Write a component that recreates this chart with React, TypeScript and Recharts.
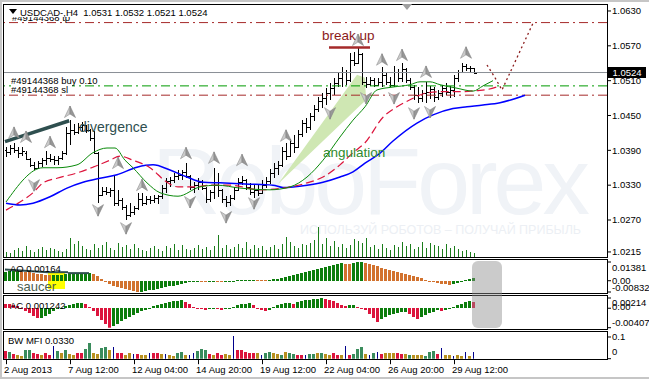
import React from 'react';
import { ComposedChart, Bar, Line, Area, Scatter, XAxis, YAxis, ReferenceLine } from 'recharts';

const FONT = '"Liberation Sans", Arial, sans-serif';
const FS = 9.5;

// ---------- price bars (H4 USDCAD) ----------
const OPEN = [
  1.0391,1.0387,1.0394,1.0391,1.0385,1.0386,1.0375,1.0365,1.0360,1.0368,
  1.0373,1.0377,1.0375,1.0373,1.0377,1.0385,1.0420,1.0425,1.0422,1.0430,
  1.0433,1.0425,1.0411,1.0385,1.0313,1.0320,1.0318,1.0322,1.0299,1.0304,
  1.0292,1.0278,1.0284,1.0290,1.0306,1.0299,1.0306,1.0304,1.0308,1.0311,
  1.0325,1.0337,1.0339,1.0346,1.0348,1.0353,1.0346,1.0327,1.0330,1.0336,
  1.0325,1.0306,1.0318,1.0330,1.0322,1.0306,1.0301,1.0308,1.0322,1.0336,
  1.0339,1.0327,1.0318,1.0322,1.0316,1.0330,1.0337,1.0351,1.0360,1.0365,
  1.0389,1.0380,1.0403,1.0396,1.0418,1.0437,1.0430,1.0449,1.0461,1.0475,
  1.0480,1.0489,1.0497,1.0506,1.0515,1.0525,1.0511,1.0546,1.0540,1.0556,
  1.0508,1.0505,1.0511,1.0503,1.0508,1.0520,1.0508,1.0503,1.0525,1.0515,
  1.0530,1.0511,1.0499,1.0485,1.0480,1.0489,1.0491,1.0495,1.0482,1.0489,
  1.0497,1.0491,1.0494,1.0515,1.0525,1.0536,1.0532,1.0531,
];
const HIGH = [
  1.0396,1.0399,1.0403,1.0396,1.0396,1.0389,1.0377,1.0370,1.0372,1.0377,
  1.0389,1.0384,1.0380,1.0381,1.0389,1.0430,1.0442,1.0435,1.0437,1.0439,
  1.0434,1.0427,1.0423,1.0387,1.0327,1.0327,1.0325,1.0348,1.0322,1.0308,
  1.0296,1.0299,1.0294,1.0316,1.0316,1.0311,1.0311,1.0313,1.0313,1.0330,
  1.0342,1.0344,1.0351,1.0356,1.0356,1.0368,1.0348,1.0335,1.0342,1.0339,
  1.0327,1.0322,1.0360,1.0351,1.0324,1.0311,1.0313,1.0327,1.0342,1.0346,
  1.0340,1.0334,1.0330,1.0330,1.0339,1.0344,1.0358,1.0368,1.0372,1.0396,
  1.0403,1.0410,1.0417,1.0425,1.0442,1.0446,1.0454,1.0468,1.0482,1.0489,
  1.0497,1.0506,1.0515,1.0523,1.0534,1.0528,1.0558,1.0560,1.0566,1.0558,
  1.0516,1.0517,1.0515,1.0514,1.0534,1.0524,1.0517,1.0535,1.0530,1.0540,
  1.0532,1.0515,1.0503,1.0499,1.0494,1.0508,1.0500,1.0499,1.0494,1.0503,
  1.0506,1.0500,1.0520,1.0528,1.0540,1.0538,1.0535,1.0532,
];
const LOW = [
  1.0379,1.0382,1.0386,1.0377,1.0380,1.0373,1.0361,1.0356,1.0358,1.0361,
  1.0365,1.0370,1.0365,1.0365,1.0373,1.0382,1.0399,1.0416,1.0418,1.0422,
  1.0420,1.0406,1.0383,1.0300,1.0311,1.0313,1.0310,1.0294,1.0294,1.0287,
  1.0270,1.0276,1.0279,1.0287,1.0294,1.0296,1.0298,1.0299,1.0298,1.0306,
  1.0316,1.0327,1.0334,1.0339,1.0339,1.0342,1.0322,1.0317,1.0322,1.0322,
  1.0299,1.0301,1.0306,1.0310,1.0299,1.0292,1.0294,1.0304,1.0320,1.0330,
  1.0322,1.0313,1.0308,1.0311,1.0314,1.0325,1.0332,1.0342,1.0348,1.0361,
  1.0373,1.0378,1.0386,1.0394,1.0413,1.0420,1.0425,1.0440,1.0456,1.0463,
  1.0468,1.0477,1.0485,1.0499,1.0499,1.0503,1.0508,1.0535,1.0538,1.0503,
  1.0498,1.0500,1.0499,1.0500,1.0499,1.0503,1.0499,1.0499,1.0508,1.0508,
  1.0506,1.0494,1.0477,1.0472,1.0474,1.0472,1.0478,1.0474,1.0476,1.0482,
  1.0485,1.0480,1.0482,1.0508,1.0523,1.0526,1.0525,1.0521,
];
const CLOSE = [
  1.0387,1.0394,1.0391,1.0385,1.0389,1.0375,1.0365,1.0360,1.0368,1.0373,
  1.0377,1.0375,1.0373,1.0377,1.0385,1.0420,1.0425,1.0422,1.0430,1.0433,
  1.0425,1.0411,1.0385,1.0313,1.0320,1.0318,1.0322,1.0299,1.0304,1.0292,
  1.0278,1.0284,1.0290,1.0306,1.0299,1.0306,1.0304,1.0308,1.0311,1.0325,
  1.0337,1.0339,1.0346,1.0348,1.0353,1.0346,1.0327,1.0330,1.0336,1.0325,
  1.0306,1.0318,1.0330,1.0322,1.0306,1.0301,1.0308,1.0322,1.0336,1.0339,
  1.0327,1.0318,1.0322,1.0316,1.0330,1.0337,1.0351,1.0360,1.0365,1.0389,
  1.0380,1.0403,1.0396,1.0418,1.0437,1.0430,1.0449,1.0461,1.0475,1.0480,
  1.0489,1.0497,1.0506,1.0515,1.0525,1.0511,1.0546,1.0540,1.0556,1.0508,
  1.0505,1.0511,1.0503,1.0508,1.0520,1.0508,1.0503,1.0525,1.0515,1.0530,
  1.0511,1.0499,1.0485,1.0480,1.0489,1.0491,1.0495,1.0482,1.0489,1.0497,
  1.0491,1.0494,1.0515,1.0525,1.0536,1.0532,1.0531,1.0524,
];
const VOLUME = [
  800,640,1120,1440,960,1760,1120,800,1280,1600,1120,
  1440,1280,960,800,1280,3040,2080,2560,1760,1280,
  1120,2080,1440,1920,2400,1440,1120,2240,1600,1920,
  1280,2080,1440,1120,960,1440,1760,1280,960,1760,
  1440,2080,1120,1920,1280,1120,1440,1920,1280,1600,
  1120,1760,3520,1440,1920,1280,1600,2080,1440,2400,
  1280,1920,1440,1760,1120,1600,1920,1280,2080,3200,
  2400,1760,1440,2080,1920,2240,2720,4800,2080,3040,
  1760,2560,1600,2080,1440,1920,2880,2560,2240,3040,
  1600,1920,1280,2080,1440,1120,1920,1600,2400,1760,
  2080,1280,1600,2400,1440,2240,1920,1760,1280,2080,
  1440,1760,1280,960,1120,800,640,
];

// ---------- Alligator (index, price) ----------
const JAW: [number, number][] = [
  [0,1.0299],[3.5,1.0296],[6.75,1.0299],[11,1.0310],[15.25,1.0325],[19.25,1.0335],[23.5,1.0342],
  [27.75,1.0348],[32.75,1.0361],[36.75,1.0365],[41,1.0356],[45.25,1.0344],[49.25,1.0335],[53.5,1.0334],
  [59.75,1.0332],[66.75,1.0330],[69.25,1.0326],[75.25,1.0330],[79.25,1.0335],[83.5,1.0344],[86.75,1.0353],
  [89.75,1.0368],[93.5,1.0385],[96.75,1.0406],[102.75,1.0437],[106.75,1.0451],[111.75,1.0462],
  [115.25,1.0465],[119.25,1.0468],[123.5,1.0472],[129.75,1.0485],
];
const TEETH: [number, number][] = [
  [0,1.0287],[3.5,1.0301],[6.75,1.0317],[9.25,1.0334],[12.75,1.0342],[17.75,1.0351],[21.75,1.0361],
  [26,1.0373],[28.5,1.0380],[31.75,1.0373],[36,1.0360],[40.25,1.0335],[43,1.0327],[46.75,1.0327],
  [51,1.0330],[56,1.0330],[63.5,1.0322],[69.25,1.0325],[75.25,1.0334],[79.25,1.0344],[83.5,1.0365],
  [86.75,1.0386],[89.75,1.0403],[94.25,1.0447],[97.75,1.0465],[101,1.0477],[105.25,1.0489],
  [109.25,1.0491],[113.5,1.0491],[117.75,1.0493],[120.5,1.0495],[123.5,1.0501],
];
const LIPS: [number, number][] = [
  [0,1.0301],[9.25,1.0360],[12.75,1.0360],[17.75,1.0365],[21.75,1.0386],[25.25,1.0394],[27.25,1.0394],
  [29.75,1.0373],[31.75,1.0360],[35.25,1.0334],[38.5,1.0317],[43,1.0311],[48.5,1.0327],[52.75,1.0330],
  [58.5,1.0325],[66,1.0322],[71,1.0327],[75.25,1.0344],[79.25,1.0373],[83.5,1.0413],[86.75,1.0442],
  [89.75,1.0465],[92.75,1.0494],[96.75,1.0499],[101,1.0503],[103.5,1.0508],[106,1.0508],[108.5,1.0503],
  [112.75,1.0497],[116.75,1.0492],[119.25,1.0501],[121.75,1.0510],
];
const FORECAST: [number, number][] = [[120.25,1.0537],[122.25,1.0515],[124,1.0494],[131.75,1.0609]];
const WEDGE: [number, number, number][] = [[68,1.0332,1.0332],[87.75,1.0462,1.0520],[89.75,1.0475,1.0515],[90,1.0477,1.0477]];
const DIVERGENCE: [number, number][] = [[-0.25,1.0405],[15.8,1.0441]];
const BREAK_UP: [number, number][] = [[80.75,1.0567],[91,1.0567]];

const FRACTAL_UP: [number, number][] = [
  [2,1.0420],[5,1.0413],[11,1.0404],[16,1.0456],[28,1.0368],[34,1.0330],[45,1.0385],[52,1.0377],
  [59,1.0373],[70,1.0415],[88,1.0580],[94,1.0546],[99,1.0554],[105,1.0525],[115,1.0558],
];
const FRACTAL_DOWN: [number, number][] = [
  [7,1.0330],[23,1.0287],[30,1.0256],[46,1.0301],[55,1.0275],[62,1.0299],[81,1.0454],[90,1.0480],
  [97,1.0480],[102,1.0454],[106,1.0456],
];

const LEVEL_TP = 1.0610;
const LEVEL_BID = 1.0524;
const LEVEL_BUY = 1.0501;
const LEVEL_SL = 1.0485;

const PRICE_TICKS = [1.0215, 1.0270, 1.0330, 1.0390, 1.0450, 1.0510, 1.0570, 1.0630];
const TIME_TICKS = [0, 16, 32, 48, 64, 80, 96, 112];
const TIME_LABELS = ['2 Aug 2013', '7 Aug 12:00', '12 Aug 04:00', '14 Aug 20:00', '19 Aug 12:00', '22 Aug 04:00', '26 Aug 20:00', '29 Aug 12:00'];

// ---------- Awesome Oscillator ----------
const AO = [
  0.0067,0.0069,0.0072,0.0073,0.0070,0.0066,0.0061,0.0056,0.0051,0.0046,
  0.0042,0.0039,0.0040,0.0043,0.0045,0.0047,0.0049,0.0051,0.0053,0.0054,
  0.0056,0.0057,0.0046,0.0034,0.0015,-0.0011,-0.0024,-0.0036,-0.0046,-0.0056,
  -0.0063,-0.0071,-0.0078,-0.00832,-0.0082,-0.0078,-0.0072,-0.0066,-0.0060,-0.0054,
  -0.0048,-0.0042,-0.0036,-0.0030,-0.0024,-0.0018,-0.0013,-0.0010,-0.0007,-0.0008,
  -0.0009,-0.0007,-0.0006,-0.0007,-0.0008,-0.0006,-0.0004,-0.0002,0.0002,0.0004,
  0.0007,0.0008,0.0009,0.0007,0.0006,0.0005,0.0007,0.0010,0.0015,0.0021,
  0.0027,0.0034,0.0040,0.0047,0.0054,0.0062,0.0070,0.0078,0.0087,0.0095,
  0.0104,0.0112,0.0118,0.0123,0.0128,0.0127,0.0125,0.0131,0.0136,0.01381,
  0.0133,0.0124,0.0115,0.0105,0.0095,0.0087,0.0078,0.0072,0.0066,0.0058,
  0.0051,0.0043,0.0036,0.0028,0.0021,0.0009,-0.0004,-0.0011,-0.0016,-0.0021,
  -0.0026,-0.0031,-0.0026,-0.0019,-0.0009,0.0004,0.0011,0.00164,
];
const AO_TICKS = [0.01381, 0, -0.00832];
const AO_TICK_TEXT = ['0.01381', '0.00', '-0.00832'];
const AO_TREND: [number, number][][] = [
  [[-0.25,0.0082],[10.5,0.0063]],
  [[10.5,0.0063],[15.5,0.0063]],
  [[15.5,0.0056],[20.75,0.0056]],
];

// ---------- Accelerator Oscillator ----------
const AC = [
  0.00095,0.00084,0.00074,0.00053,0.00011,-0.00053,-0.00105,-0.00168,-0.00210,-0.00200,
  -0.00168,-0.00116,-0.00063,-0.00021,0.00011,0.00042,0.00074,0.00088,0.00101,0.00109,
  0.00084,0.00021,-0.00063,-0.00168,-0.00252,-0.00336,-0.00407,-0.00378,-0.00336,-0.00273,
  -0.00231,-0.00189,-0.00147,-0.00105,-0.00063,-0.00032,0.00011,0.00042,0.00063,0.00084,
  0.00105,0.00126,0.00143,0.00158,0.00168,0.00137,0.00084,0.00032,-0.00011,-0.00021,
  -0.00032,-0.00017,-0.00011,-0.00021,-0.00032,-0.00017,0.00011,0.00032,0.00063,0.00084,
  0.00095,0.00101,0.00074,0.00011,-0.00042,-0.00063,-0.00032,0.00021,0.00063,0.00084,
  0.00105,0.00116,0.00095,0.00126,0.00147,0.00162,0.00174,0.00185,0.00195,0.00214,
  0.00189,0.00168,0.00147,0.00116,0.00063,0.00042,0.00059,0.00067,0.00032,0.00011,
  -0.00042,-0.00126,-0.00200,-0.00284,-0.00231,-0.00189,-0.00147,-0.00116,-0.00095,-0.00084,
  -0.00080,-0.00126,-0.00179,-0.00221,-0.00189,-0.00147,-0.00105,-0.00074,-0.00042,-0.00053,
  -0.00032,0.00004,0.00032,0.00063,0.00095,0.00126,0.00143,0.00124,
];
const AC_TICKS = [0.00214, 0, -0.00407];
const AC_TICK_TEXT = ['0.00214', '0.00', '-0.00407'];

// ---------- BW Market Facilitation Index ----------
const MFI = [
  0.0354,0.0322,0.0202,0.0170,0.0138,0.0386,0.0386,0.0248,0.0230,0.0170,
  0.0248,0.0156,0.0584,0.0354,0.0276,0.0414,0.0202,0.0156,0.0248,0.0248,
  0.0460,0.0708,0.0248,0.0230,0.0506,0.0538,0.0400,0.0552,0.0248,0.0276,
  0.0184,0.0248,0.0202,0.0202,0.0170,0.0156,0.0248,0.0276,0.0276,0.0230,
  0.0230,0.0170,0.0138,0.0276,0.0308,0.0170,0.0170,0.0248,0.0354,0.0460,
  0.0400,0.0216,0.0170,0.0248,0.0184,0.0230,0.0184,0.1049,0.0386,0.0386,
  0.0322,0.0276,0.0248,0.0248,0.0184,0.0248,0.0294,0.0276,0.0230,0.0184,
  0.0308,0.0276,0.0202,0.0170,0.0170,0.0156,0.0230,0.0230,0.0262,0.0262,
  0.0230,0.0156,0.0248,0.0184,0.0184,0.0584,0.0184,0.0216,0.0460,0.0524,
  0.0216,0.0156,0.0276,0.0308,0.0216,0.0276,0.0276,0.0248,0.0248,0.0230,
  0.0216,0.0184,0.0184,0.0170,0.0156,0.0138,0.0308,0.0340,0.0216,0.0506,
  0.0184,0.0156,0.0138,0.0170,0.0138,0.0308,0.0115,0.0330,
];
// g = MFI up / volume up, r = squat, y = fade, b = fake
const MFI_STATE = (
  'rgryyggrry' + 'rrbgygyyrr' + 'ggyyggybrr' + 'yybryybrry' + 'byyggybbgg' +
  'gryrryybrr' + 'rrrybggyyg' + 'yggrrbggyg' + 'yyrrybrggg' + 'ybgbryyyrr' +
  'ygyyygggrb' + 'yybyybyb'
).split('');
const MFI_TICKS = [0.1, 0];
const MFI_TICK_TEXT = ['0.1', '0'];

// ---------- layout / style ----------
const X_DOMAIN: [number, number] = [-0.5, 150.25];
const PRICE_DOMAIN: [number, number] = [1.02063, 1.06403];
const VOL_DOMAIN: [number, number] = [0, 40320];
const AO_DOMAIN: [number, number] = [-0.00832, 0.01381];
const AC_DOMAIN: [number, number] = [-0.00407, 0.00214];
const MFI_DOMAIN: [number, number] = [0, 0.1184];

const C = {
  aoUp: '#0c7d0c', aoDown: '#d2722e',
  acUp: '#0c7d0c', acDown: '#dc143c',
  mfi: { g: '#3a8c5c', r: '#dc143c', y: '#b8901e', b: '#00008b' } as Record<string, string>,
  vol: '#1b7d1b',
  jaw: '#0000ff', teeth: '#dc143c', lips: '#0a8a0a',
  stop: '#a52a2a', buy: '#009a00', bid: '#8a8f96',
};

const bars = CLOSE.map((c, i) => ({ i, o: OPEN[i], h: HIGH[i], l: LOW[i], c, range: [LOW[i], HIGH[i]], vol: VOLUME[i] }));
const aoData = AO.map((v, i) => ({ i, v, color: i === 0 || v > AO[i - 1] ? C.aoUp : C.aoDown }));
const acData = AC.map((v, i) => ({ i, v, color: i > 0 && v > AC[i - 1] ? C.acUp : C.acDown }));
const mfiData = MFI.map((v, i) => ({ i, v, state: MFI_STATE[i], color: C.mfi[MFI_STATE[i]] }));
const toPts = (arr: [number, number][]) => arr.map(([i, p]) => ({ i, p }));
const wedgeData = WEDGE.map(([i, lo, hi]) => ({ i, r: [lo, hi] }));

function OhlcShape(props: any) {
  const { x, y, width, height, payload } = props;
  if (x == null || !payload) return null;
  const cx = Math.round(x + width / 2) + 0.5;
  const top = Math.min(y, y + height);
  const hh = Math.abs(height);
  const span = payload.h - payload.l;
  const yo = Math.round(top + (span ? (payload.h - payload.o) / span : 0.5) * hh) + 0.5;
  const yc = Math.round(top + (span ? (payload.h - payload.c) / span : 0.5) * hh) + 0.5;
  return (
    <g stroke="#000" strokeWidth={1} shapeRendering="crispEdges">
      <line x1={cx} x2={cx} y1={top} y2={top + Math.max(hh, 1)} />
      <line x1={cx - 2} x2={cx} y1={yo} y2={yo} />
      <line x1={cx} x2={cx + 2} y1={yc} y2={yc} />
    </g>
  );
}

function VolShape(props: any) {
  const { x, y, width, height } = props;
  if (x == null) return null;
  const cx = Math.round(x + width / 2) + 0.5;
  return <line x1={cx} x2={cx} y1={y} y2={y + height} stroke={C.vol} strokeWidth={1} shapeRendering="crispEdges" />;
}

function HistShape(props: any) {
  const { x, y, width, height, payload } = props;
  if (x == null || !payload) return null;
  const cx = x + width / 2;
  const top = Math.min(y, y + height);
  const hh = Math.max(Math.abs(height), 0.8);
  const thin = payload.state === 'b';
  const w = thin ? 1 : 3;
  return <rect x={Math.round(cx - w / 2)} y={top} width={w} height={hh} fill={payload.color} shapeRendering="crispEdges" />;
}

function Fractal({ cx, cy, up }: { cx: number; cy: number; up: boolean }) {
  if (cx == null || cy == null) return null;
  const s = up ? 1 : -1;
  const P = (a: number, b: number) => `${cx + a},${cy + b * s}`;
  return (
    <g>
      <polygon points={[P(0, -6), P(0, 2), P(-5.5, 5.5)].join(' ')} fill="#cacaca" stroke="#929292" strokeWidth={0.6} />
      <polygon points={[P(0, -6), P(5.5, 5.5), P(0, 2)].join(' ')} fill="#979797" stroke="#828282" strokeWidth={0.6} />
    </g>
  );
}

function PriceTick(props: any) {
  const { x, y, payload } = props;
  return (
    <text x={x} y={y} dy="0.35em" fontSize={FS} fontFamily={FONT} fill="#000">
      {Number(payload.value).toFixed(4)}
    </text>
  );
}

function makeRightTick(values: number[], texts: string[], offsets: number[]) {
  return (props: any) => {
    const { x, y, payload } = props;
    const k = values.findIndex((v) => Math.abs(v - payload.value) < 1e-9);
    return (
      <text x={x} y={y + (offsets[k] ?? 0)} dy="0.35em" fontSize={FS} fontFamily={FONT} fill="#000">
        {k >= 0 ? texts[k] : String(payload.value)}
      </text>
    );
  };
}
const AoTick = makeRightTick(AO_TICKS, AO_TICK_TEXT, [6, 0, -4.5]);
const AcTick = makeRightTick(AC_TICKS, AC_TICK_TEXT, [5, -2, -4.7]);
const MfiTick = makeRightTick(MFI_TICKS, MFI_TICK_TEXT, [0, -6.7]);

function TimeTick(props: any) {
  const { x, y, payload } = props;
  const k = TIME_TICKS.indexOf(payload.value);
  const lx = Math.round(x) + 0.5;
  return (
    <g>
      <line x1={lx} x2={lx} y1={y + 1.3} y2={y + 5.5} stroke="#000" strokeWidth={1} />
      <text x={x - 2} y={y + 13.8} fontSize={FS} fontFamily={FONT} fill="#000">{TIME_LABELS[k]}</text>
    </g>
  );
}

const abs = (l: number, t: number, extra: React.CSSProperties = {}): React.CSSProperties => ({
  position: 'absolute', left: l, top: t, whiteSpace: 'nowrap', fontFamily: FONT, ...extra,
});
const pane = (t: number, h: number): React.CSSProperties => ({
  position: 'absolute', left: 3, top: t, width: 605, height: h, border: '1px solid #000', boxSizing: 'border-box', pointerEvents: 'none',
});
const dashDot = '9 4 2 4';

export default function App() {
  return (
    <div style={{ position: 'fixed', left: 0, top: 0, width: 649, height: 379, background: '#fff', overflow: 'hidden', fontFamily: FONT }}>
      {/* window frame */}
      <div style={{ position: 'absolute', left: 0, top: 0, width: 649, height: 379, borderTop: '2px solid #c6c6c6', borderLeft: '2px solid #c6c6c6', borderBottom: '2px solid #c6c6c6', boxSizing: 'border-box' }} />

      {/* watermark */}
      <div style={abs(152, 134, { fontSize: 95, lineHeight: '95px', color: '#f0f3f7', letterSpacing: -4 })}>RoboForex</div>
      <div style={abs(300, 224, { fontSize: 12.5, lineHeight: '13px', color: '#eceff4' })}>ИСПОЛЬЗУЙ РОБОТОВ – ПОЛУЧАЙ ПРИБЫЛЬ</div>

      {/* saucer highlight */}
      <div style={{ position: 'absolute', left: 48, top: 273, width: 17, height: 16, background: '#ffff00' }} />

      {/* main price pane */}
      <div style={{ position: 'absolute', left: 0, top: 0 }}>
        <ComposedChart width={649} height={262} data={bars} margin={{ top: 5, right: 0, bottom: 5, left: 4 }}>
          <XAxis xAxisId="x" type="number" dataKey="i" domain={X_DOMAIN} allowDataOverflow hide />
          <XAxis xAxisId="vx" type="number" dataKey="i" domain={X_DOMAIN} allowDataOverflow hide />
          <YAxis yAxisId="y" orientation="right" width={42} domain={PRICE_DOMAIN} allowDataOverflow ticks={PRICE_TICKS} interval={0}
            tickSize={4} tickMargin={1} axisLine={false} tickLine={{ stroke: '#000' }} tick={PriceTick} />
          <YAxis yAxisId="vy" domain={VOL_DOMAIN} hide />

          <Area xAxisId="x" yAxisId="y" data={wedgeData} dataKey="r" type="linear" stroke="none" fill="#cfe7b3" fillOpacity={1} isAnimationActive={false} />

          <ReferenceLine xAxisId="x" yAxisId="y" y={LEVEL_TP} stroke={C.stop} strokeDasharray={dashDot} />
          <ReferenceLine xAxisId="x" yAxisId="y" y={LEVEL_BID} stroke={C.bid} />
          <ReferenceLine xAxisId="x" yAxisId="y" y={LEVEL_BUY} stroke={C.buy} strokeDasharray={dashDot} />
          <ReferenceLine xAxisId="x" yAxisId="y" y={LEVEL_SL} stroke={C.stop} strokeDasharray={dashDot} />

          <Bar xAxisId="vx" yAxisId="vy" dataKey="vol" barSize={1} shape={VolShape} isAnimationActive={false} />

          <Line xAxisId="x" yAxisId="y" data={toPts(JAW)} dataKey="p" type="monotone" stroke={C.jaw} strokeWidth={1.5} dot={false} isAnimationActive={false} />
          <Line xAxisId="x" yAxisId="y" data={toPts(TEETH)} dataKey="p" type="monotone" stroke={C.teeth} strokeWidth={1.2} strokeDasharray="8 4" dot={false} isAnimationActive={false} />
          <Line xAxisId="x" yAxisId="y" data={toPts(LIPS)} dataKey="p" type="monotone" stroke={C.lips} strokeWidth={1} dot={false} isAnimationActive={false} />
          <Line xAxisId="x" yAxisId="y" data={toPts(FORECAST)} dataKey="p" type="linear" stroke="#8b1c1c" strokeWidth={1.3} strokeDasharray="2 3" dot={false} isAnimationActive={false} />

          <Bar xAxisId="x" yAxisId="y" dataKey="range" barSize={3} shape={OhlcShape} isAnimationActive={false} />

          <Scatter xAxisId="x" yAxisId="y" data={toPts(FRACTAL_UP)} dataKey="p" isAnimationActive={false}
            shape={(p: any) => <Fractal cx={p.cx} cy={p.cy} up />} />
          <Scatter xAxisId="x" yAxisId="y" data={toPts(FRACTAL_DOWN)} dataKey="p" isAnimationActive={false}
            shape={(p: any) => <Fractal cx={p.cx} cy={p.cy} up={false} />} />

          <ReferenceLine xAxisId="x" yAxisId="y" segment={DIVERGENCE.map(([x, y]) => ({ x, y }))} stroke="#2f4f4f" strokeWidth={3.5} />
          <ReferenceLine xAxisId="x" yAxisId="y" segment={BREAK_UP.map(([x, y]) => ({ x, y }))} stroke="#a52a2a" strokeWidth={2.5} />
        </ComposedChart>
      </div>

      {/* AO pane */}
      <div style={{ position: 'absolute', left: 0, top: 259 }}>
        <ComposedChart width={649} height={35} data={aoData} margin={{ top: 3, right: 0, bottom: 2, left: 4 }}>
          <XAxis type="number" dataKey="i" domain={X_DOMAIN} allowDataOverflow hide />
          <YAxis orientation="right" width={42} domain={AO_DOMAIN} allowDataOverflow ticks={AO_TICKS} interval={0}
            tickSize={4} tickMargin={1} axisLine={false} tickLine={{ stroke: '#000' }} tick={AoTick} />
          <Bar dataKey="v" barSize={3} shape={HistShape} isAnimationActive={false} />
          {AO_TREND.map((seg, k) => (
            <ReferenceLine key={k} segment={seg.map(([x, y]) => ({ x, y }))} stroke="#2f4f4f" strokeWidth={2} />
          ))}
        </ComposedChart>
      </div>

      {/* AC pane */}
      <div style={{ position: 'absolute', left: 0, top: 295 }}>
        <ComposedChart width={649} height={35} data={acData} margin={{ top: 3, right: 0, bottom: 2.3, left: 4 }}>
          <XAxis type="number" dataKey="i" domain={X_DOMAIN} allowDataOverflow hide />
          <YAxis orientation="right" width={42} domain={AC_DOMAIN} allowDataOverflow ticks={AC_TICKS} interval={0}
            tickSize={4} tickMargin={1} axisLine={false} tickLine={{ stroke: '#000' }} tick={AcTick} />
          <Bar dataKey="v" barSize={3} shape={HistShape} isAnimationActive={false} />
        </ComposedChart>
      </div>

      {/* BW MFI pane + time axis */}
      <div style={{ position: 'absolute', left: 0, top: 331 }}>
        <ComposedChart width={649} height={48} data={mfiData} margin={{ top: 2, right: 0, bottom: 0, left: 4 }}>
          <XAxis type="number" dataKey="i" domain={X_DOMAIN} allowDataOverflow ticks={TIME_TICKS} interval={0}
            height={20.3} tickSize={0} tickMargin={0} axisLine={false} tickLine={false} tick={TimeTick} />
          <YAxis orientation="right" width={42} domain={MFI_DOMAIN} allowDataOverflow ticks={MFI_TICKS} interval={0}
            tickSize={4} tickMargin={1} axisLine={false} tickLine={{ stroke: '#000' }} tick={MfiTick} />
          <Bar dataKey="v" barSize={3} shape={HistShape} isAnimationActive={false} />
        </ComposedChart>
      </div>

      {/* pane borders */}
      <div style={pane(4, 254)} />
      <div style={pane(259, 35)} />
      <div style={pane(295, 35)} />
      <div style={pane(331, 29)} />

      {/* chart shift marker */}
      <svg style={{ position: 'absolute', left: 402, top: 4 }} width={10} height={7}>
        <polygon points="0,0 10,0 5,6" fill="#a0a0a0" />
      </svg>

      {/* order labels & header */}
      <div style={abs(12, 13, { fontSize: FS, lineHeight: '9px', color: '#000' })}>#49144368 tp</div>
      <div style={abs(8, 7.5, { fontSize: FS, lineHeight: '9px', color: '#000', background: '#fff', paddingRight: 2, display: 'flex', alignItems: 'center' })}>
        <svg width={10} height={8} style={{ marginRight: 2 }}><polygon points="1,1 9,1 5,6" fill="#000" /></svg>
        <span>USDCAD-,H4&nbsp; 1.0531 1.0532 1.0521 1.0524</span>
      </div>
      <div style={abs(11, 76, { fontSize: FS, lineHeight: '9px', color: '#000', background: '#fff', paddingRight: 2 })}>#49144368 buy 0.10</div>
      <div style={abs(11, 84.5, { fontSize: FS, lineHeight: '9px', color: '#000', background: '#fff', paddingRight: 4 })}>#49144368 sl</div>

      {/* current price */}
      <div style={abs(608, 66.5, { width: 38, height: 11, background: '#000', color: '#fff', fontSize: FS, lineHeight: '11px', textAlign: 'center' })}>1.0524</div>

      {/* annotations */}
      <div style={abs(79, 120, { fontSize: 14, lineHeight: '14px', color: '#2f4f4f' })}>divergence</div>
      <div style={abs(322, 29, { fontSize: 13.5, lineHeight: '14px', color: '#8b1a1a' })}>break up</div>
      <div style={abs(323, 146, { fontSize: 13.5, lineHeight: '14px', color: '#2e8b2e' })}>angulation</div>
      <div style={abs(17, 279.5, { fontSize: 13, lineHeight: '13px', color: '#4d5d4d' })}>saucer</div>

      {/* indicator captions */}
      <div style={abs(10, 264, { fontSize: FS, lineHeight: '10px', color: '#000' })}>AO 0.00164</div>
      <div style={abs(10, 301, { fontSize: FS, lineHeight: '10px', color: '#000' })}>AC 0.001242</div>
      <div style={abs(8, 336, { fontSize: FS, lineHeight: '10px', color: '#000' })}>BW MFI 0.0330</div>

      {/* highlight box over last oscillator bars */}
      <div style={{ position: 'absolute', left: 472, top: 261, width: 30, height: 67, borderRadius: 6, background: 'rgba(140,140,140,0.45)' }} />
    </div>
  );
}
